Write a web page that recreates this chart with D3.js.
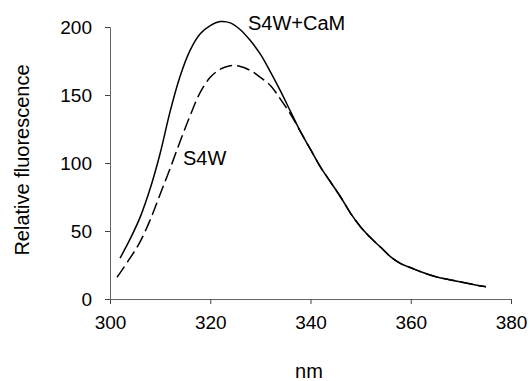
<!DOCTYPE html>
<html>
<head>
<meta charset="utf-8">
<script src="https://cdn.jsdelivr.net/npm/d3@7"></script>
<style>
  body { margin: 0; background: #fff; }
  text { font-family: "Liberation Sans", Arial, sans-serif; }
</style>
</head>
<body>
<div id="chart-container"></div>
<script>
// emission spectra, S4W peptide with and without CaM

const wavelength = [302, 304, 306, 308, 310, 312, 314, 316, 318, 320, 322, 324, 326, 328,
                    330, 332, 334, 336, 338, 340, 342, 344, 346, 348, 350, 352, 354, 356,
                    358, 360, 362, 364, 366, 368, 370, 372, 374, 375];

const s4wCam = [30, 44, 60, 81, 107, 138, 164, 183, 195, 201, 204, 203, 198, 190,
                180, 167, 153, 138, 123, 110, 97, 86, 75, 63, 53, 45, 38, 31,
                26, 23, 20, 17.5, 15.5, 14, 12.5, 11, 9.5, 9];

const s4w = [22, 30, 42, 58, 77, 96, 116, 135, 152, 163, 169, 171.5, 171, 168,
             163, 157, 147, 136, 123, 110, 97, 86, 75, 63, 53, 45, 38, 31,
             26, 23, 20, 17.5, 15.5, 14, 12.5, 11, 9.5, 9];

const xTicks = [300, 320, 340, 360, 380];
const yTicks = [0, 50, 100, 150, 200];

const svgWidth = 530;
const svgHeight = 381;

const svg = d3.select("#chart-container")
    .append("svg")
    .attr("width", svgWidth)
    .attr("height", svgHeight);

const scaleX = d3.scaleLinear().domain([300, 380]).range([110, 511]);
const scaleY = d3.scaleLinear().domain([0, 200]).range([299, 27]);

const xAxis = svg.append("g")
    .attr("transform", `translate(0,${scaleY(0)})`)
    .call(d3.axisBottom(scaleX).tickValues(xTicks).tickSize(5).tickPadding(14));

const yAxis = svg.append("g")
    .attr("transform", `translate(${scaleX(300)},0)`)
    .call(d3.axisLeft(scaleY).tickValues(yTicks).tickSize(5).tickPadding(13));

[xAxis, yAxis].forEach(function(ax) {
    ax.select(".domain").attr("stroke", "#666");
    ax.selectAll(".tick line").attr("stroke", "#444");
    ax.selectAll(".tick text")
        .attr("font-size", "19px")
        .attr("fill", "#000")
        .style("font-family", "'Liberation Sans', Arial, sans-serif");
});
xAxis.selectAll(".tick text").attr("dy", "0.6em");

const line = d3.line()
    .x(d => scaleX(d[0]))
    .y(d => scaleY(d[1]))
    .curve(d3.curveCatmullRom.alpha(0.5));

svg.append("path")
    .datum(d3.zip(wavelength, s4wCam))
    .attr("fill", "none")
    .attr("stroke", "#000")
    .attr("stroke-width", 1.5)
    .attr("d", line);

svg.append("path")
    .datum(d3.zip(wavelength, s4w).map((d, i) => i === 0 ? [301.4, 16] : d))
    .attr("fill", "none")
    .attr("stroke", "#000")
    .attr("stroke-width", 1.5)
    .attr("stroke-dasharray", "13,5")
    .attr("d", line);

svg.append("text")
    .attr("x", 248)
    .attr("y", 30)
    .attr("font-size", "20px")
    .text("S4W+CaM");

svg.append("text")
    .attr("x", 183)
    .attr("y", 165)
    .attr("font-size", "20px")
    .text("S4W");

svg.append("text")
    .attr("x", 309)
    .attr("y", 378)
    .attr("text-anchor", "middle")
    .attr("font-size", "20px")
    .text("nm");

svg.append("text")
    .attr("transform", "rotate(-90)")
    .attr("x", -160)
    .attr("y", 29)
    .attr("text-anchor", "middle")
    .attr("font-size", "20px")
    .text("Relative fluorescence");
</script>
</body>
</html>
